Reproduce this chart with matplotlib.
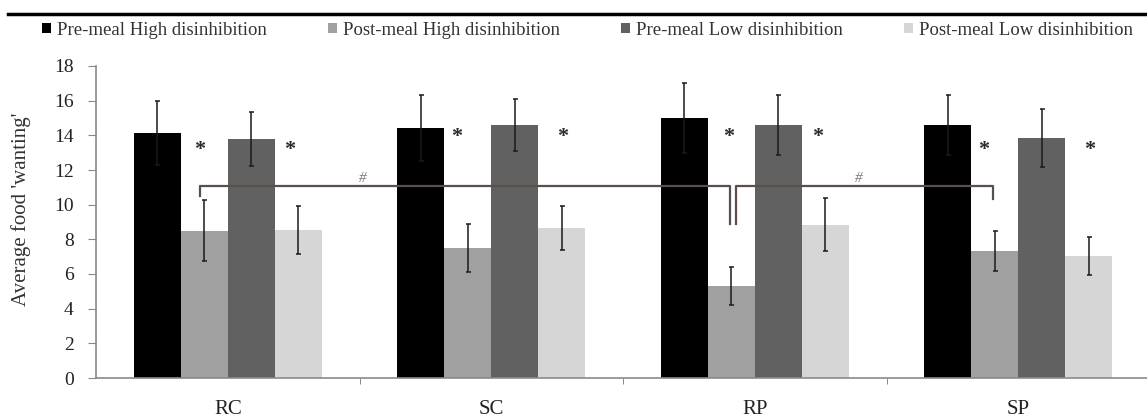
import numpy as np
import matplotlib.pyplot as plt
from matplotlib.lines import Line2D
from matplotlib.patches import Patch

plt.rcParams['font.family'] = ['Liberation Serif', 'DejaVu Serif']

categories = ['RC', 'SC', 'RP', 'SP']
series = ['Pre-meal High disinhibition', 'Post-meal High disinhibition',
          'Pre-meal Low disinhibition', 'Post-meal Low disinhibition']
pre_high = [14.15, 14.4, 15.0, 14.6]
post_high = [8.5, 7.5, 5.3, 7.35]
pre_low = [13.8, 14.6, 14.6, 13.85]
post_low = [8.55, 8.65, 8.85, 7.05]
err_pre_high = [1.85, 1.9, 2.0, 1.75]
err_post_high = [1.75, 1.4, 1.1, 1.15]
err_pre_low = [1.55, 1.5, 1.75, 1.65]
err_post_low = [1.4, 1.25, 1.55, 1.1]
# significance stars (x position, height)
star_x = [-0.105, 0.236, 0.87, 1.27, 1.90, 2.24, 2.87, 3.27]
star_y = [13.15, 13.15, 13.9, 13.9, 13.9, 13.9, 13.15, 13.15]
colors = ['#000000', '#a0a0a0', '#616161', '#d6d6d6']

fig = plt.figure(figsize=(11.47, 4.19), dpi=100)
ax = fig.add_axes([96 / 1147, 41 / 419, 1054 / 1147, 312 / 419])

x = np.arange(len(categories))
w = 0.178
vals = [pre_high, post_high, pre_low, post_low]
errs = [err_pre_high, err_post_high, err_pre_low, err_post_low]
for i, (v, e, c) in enumerate(zip(vals, errs, colors)):
    pos = x + (i - 1.5) * w
    ax.bar(pos, v, w, color=c, label=series[i], zorder=2)
    ax.errorbar(pos, v, yerr=e, fmt='none', ecolor='#1a1a1a', elinewidth=1.1,
                capsize=1.8, capthick=1.1, zorder=3)

for sx, sy in zip(star_x, star_y):
    ax.text(sx, sy, '*', ha='center', va='center', fontsize=16,
            fontweight='bold', color='#2a2a2a', zorder=4)

# brackets
bc = '#5b5049'
ax.plot([-0.105, -0.105, 1.906, 1.906], [10.5, 11.1, 11.1, 8.9],
        color=bc, lw=1.6, zorder=4)
ax.plot([1.929, 1.929, 2.904, 2.904], [8.9, 11.1, 11.1, 10.3],
        color=bc, lw=1.6, zorder=4)
ax.text(0.513, 11.15, '#', ha='center', va='bottom', fontsize=11,
        style='italic', color='#777777', zorder=4)
ax.text(2.396, 11.15, '#', ha='center', va='bottom', fontsize=11,
        style='italic', color='#777777', zorder=4)

ax.set_xlim(-0.5, 3.5)
ax.set_ylim(0, 18)
ax.set_yticks(np.arange(0, 19, 2))
ax.set_xticks(x)
ax.set_xticklabels(categories, fontsize=15, color='#222222')
ax.set_xticks(np.arange(0.5, 3.6, 1), minor=True)
ax.tick_params(axis='x', which='major', length=0, pad=16)
ax.tick_params(axis='x', which='minor', length=4, color='#777777')
ax.tick_params(axis='y', length=6, color='#888888', labelsize=14, pad=10,
               labelcolor='#222222')
for s in ['top', 'right']:
    ax.spines[s].set_visible(False)
for s in ['left', 'bottom']:
    ax.spines[s].set_color('#8a8a8a')
    ax.spines[s].set_linewidth(1.2)
ax.set_ylabel("Average food 'wanting'", fontsize=15, color='#333333')
ax.yaxis.set_label_coords(-0.062, 0.54)

handles = [Patch(facecolor=c, edgecolor='none') for c in colors]
fig.legend(handles, series, loc='center left', bbox_to_anchor=(0.022, 0.928),
           ncol=4, frameon=False, fontsize=13.5, handlelength=0.5,
           handleheight=0.5, handletextpad=0.3, columnspacing=3.25,
           labelcolor='#333333')

fig.add_artist(Line2D([8 / 1147, 1.0], [0.966, 0.966], color='black', lw=2.5))

fig.savefig('out.png', dpi=100)
